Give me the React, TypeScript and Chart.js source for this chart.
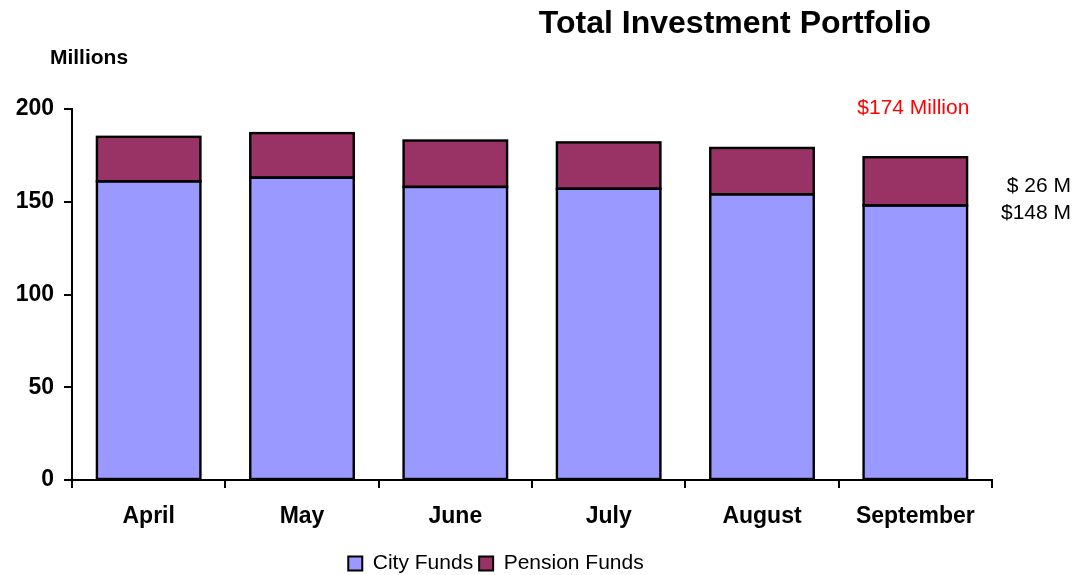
import React, { useEffect, useRef } from "react";
import { Chart, registerables } from "chart.js";

Chart.register(...registerables);

const months = ["April", "May", "June", "July", "August", "September"];
const cityFunds = [161, 163, 158, 157, 154, 148];
const pensionFunds = [24, 24, 25, 25, 25, 26];
const yTicks = [0, 50, 100, 150, 200];
const titleText = "Total Investment Portfolio";
const unitText = "Millions";
const totalNote = "$174 Million";
const pensionNote = "$ 26 M";
const cityNote = "$148 M";

const FONT = "'Liberation Sans', Arial, sans-serif";

export default function App() {
  const ref = useRef<HTMLCanvasElement | null>(null);

  useEffect(() => {
    if (!ref.current) return;
    const outlinePlugin = {
      id: "outline",
      afterDatasetsDraw(chart: any) {
        const ctx = chart.ctx;
        ctx.save();
        ctx.strokeStyle = "#000";
        ctx.lineWidth = 2.4;
        chart.data.datasets.forEach((_: any, i: number) => {
          const meta = chart.getDatasetMeta(i);
          meta.data.forEach((el: any) => {
            const p = el.getProps(["x", "y", "base", "width"], true);
            ctx.strokeRect(p.x - p.width / 2, p.y, p.width, p.base - p.y);
          });
        });
        ctx.restore();
      },
    };
    const textPlugin = {
      id: "texts",
      afterDraw(chart: any) {
        const ctx = chart.ctx;
        const xs = chart.scales.x;
        const ys = chart.scales.y;
        ctx.save();
        ctx.fillStyle = "#000";
        ctx.textBaseline = "middle";
        ctx.textAlign = "center";
        ctx.font = `bold 32px ${FONT}`;
        ctx.fillText(titleText, 735, 24);
        ctx.font = `bold 21px ${FONT}`;
        ctx.fillText(unitText, 89, 58);
        const last = months.length - 1;
        ctx.font = `21px ${FONT}`;
        ctx.fillStyle = "#FF0000";
        ctx.fillText(totalNote, xs.getPixelForValue(last) - 2, ys.getPixelForValue(200) - 1);
        ctx.fillStyle = "#000";
        ctx.textAlign = "right";
        ctx.fillText(pensionNote, 1071, 186);
        ctx.fillText(cityNote, 1071, 213);
        ctx.restore();
      },
    };

    const defaultLabels = (Chart as any).defaults.plugins.legend.labels.generateLabels;

    const chart = new Chart(ref.current, {
      type: "bar",
      data: {
        labels: months,
        datasets: [
          {
            label: "City Funds",
            data: cityFunds,
            backgroundColor: "#9999FF",
            borderWidth: 0,
            inflateAmount: 0,
          },
          {
            label: "Pension Funds",
            data: pensionFunds,
            backgroundColor: "#993366",
            borderWidth: 0,
            inflateAmount: 0,
          },
        ],
      },
      options: {
        animation: false,
        responsive: false,
        maintainAspectRatio: false,
        layout: { padding: { left: 0, right: 97, top: 109, bottom: -9 } },
        datasets: { bar: { categoryPercentage: 1, barPercentage: 0.675 } },
        plugins: {
          title: { display: false },
          tooltip: { enabled: false },
          legend: {
            display: true,
            position: "bottom",
            labels: {
              boxWidth: 14,
              boxHeight: 14,
              padding: 6,
              color: "#000",
              font: { family: FONT, size: 21 },
              generateLabels: (c: any) =>
                defaultLabels(c).map((l: any) => ({ ...l, strokeStyle: "#000", lineWidth: 2 })),
            },
          },
        },
        scales: {
          x: {
            stacked: true,
            offset: true,
            afterFit: (s: any) => {
              s.height = 67;
            },
            grid: {
              display: true,
              drawOnChartArea: false,
              drawTicks: true,
              tickLength: 8,
              color: "#000",
              lineWidth: 2,
              offset: true,
            },
            border: { display: true, color: "#000", width: 2 },
            ticks: {
              color: "#000",
              padding: 15,
              font: { family: FONT, size: 23, weight: "bold" },
            },
          },
          y: {
            stacked: true,
            min: 0,
            max: 200,
            afterFit: (s: any) => {
              s.width = 72;
            },
            afterBuildTicks: (s: any) => {
              s.ticks = yTicks.map((v) => ({ value: v }));
            },
            grid: {
              display: true,
              drawOnChartArea: false,
              drawTicks: true,
              tickLength: 8,
              color: "#000",
              lineWidth: 2,
            },
            border: { display: true, color: "#000", width: 2 },
            ticks: {
              color: "#000",
              padding: 10,
              font: { family: FONT, size: 23, weight: "bold" },
            },
          },
        },
      },
      plugins: [outlinePlugin, textPlugin],
    });
    return () => chart.destroy();
  }, []);

  return (
    <div style={{ position: "absolute", left: 0, top: 0, width: 1089, height: 575, background: "#fff" }}>
      <canvas ref={ref} width={1089} height={575} style={{ display: "block" }} />
    </div>
  );
}
